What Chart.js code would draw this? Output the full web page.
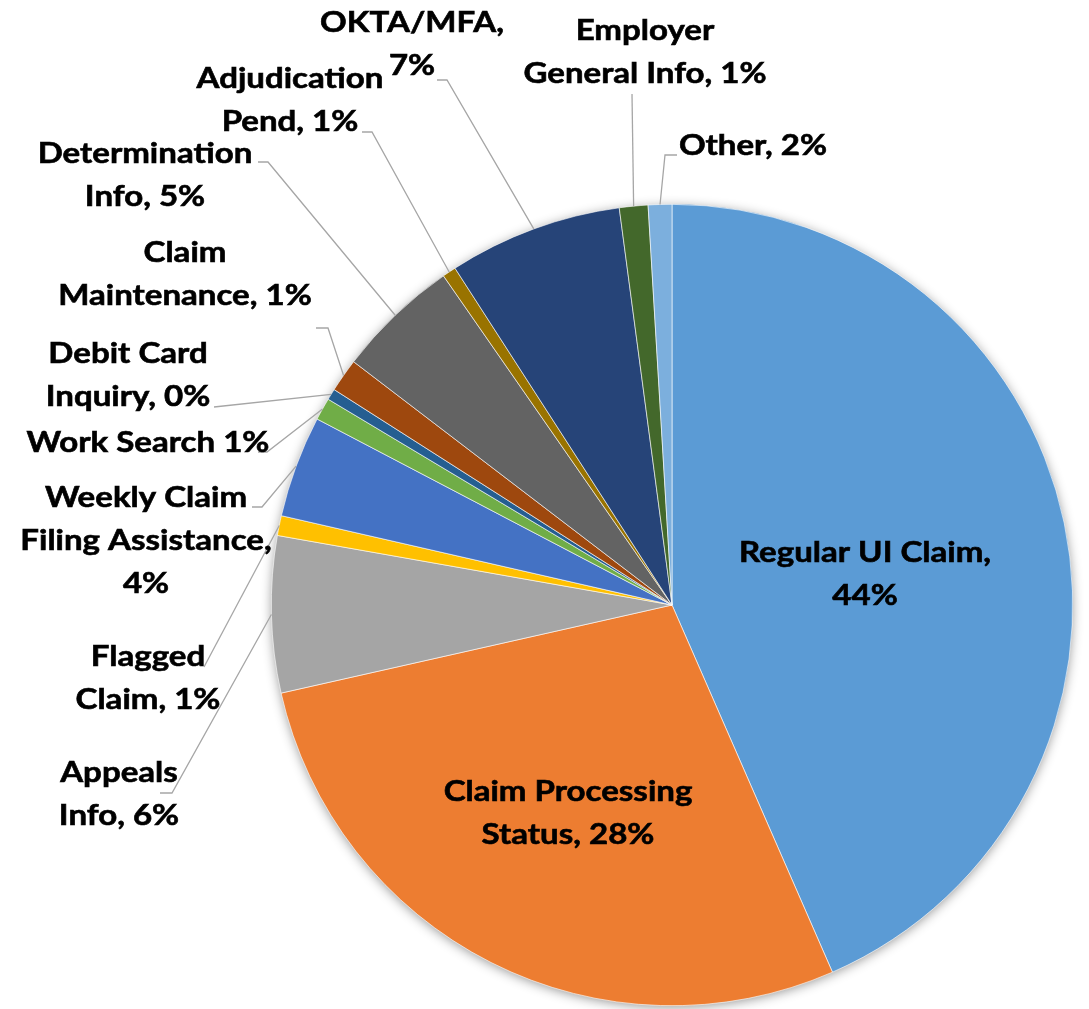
<!DOCTYPE html>
<html>
<head>
<meta charset="utf-8">
<script src="https://cdn.jsdelivr.net/npm/chart.js@4/dist/chart.umd.min.js"></script>
<style>
  html, body { margin: 0; padding: 0; background: #fff; }
  #pie { display: block; }
</style>
</head>
<body>
<canvas id="pie" width="1089" height="1009"></canvas>
<script>
'use strict';

// categories, clockwise from 12 o'clock
const categories = [
  'Regular UI Claim', 'Claim Processing Status', 'Appeals Info', 'Flagged Claim',
  'Weekly Claim Filing Assistance', 'Work Search', 'Debit Card Inquiry', 'Claim Maintenance',
  'Determination Info', 'Adjudication Pend', 'OKTA/MFA', 'Employer General Info', 'Other',
];

// share of calls (%)
const shares = [43.4, 28.0, 6.3, 0.8, 4.1, 0.9, 0.45, 1.35, 4.95, 0.55, 7.0, 1.15, 0.95];

const sliceColors = [
  '#5B9BD5', '#ED7D31', '#A5A5A5', '#FFC000', '#4472C4', '#70AD47', '#255E91',
  '#9E480E', '#636363', '#997300', '#264478', '#43682B', '#7CAFDD',
];

// data label text as printed on the chart
const labelLines = [
  ['Regular UI Claim,', '44%'],
  ['Claim Processing', 'Status, 28%'],
  ['Appeals', 'Info, 6%'],
  ['Flagged', 'Claim, 1%'],
  ['Weekly Claim', 'Filing Assistance,', '4%'],
  ['Work Search 1%'],
  ['Debit Card', 'Inquiry, 0%'],
  ['Claim', 'Maintenance, 1%'],
  ['Determination', 'Info, 5%'],
  ['Adjudication', 'Pend, 1%'],
  ['OKTA/MFA,', '7%'],
  ['Employer', 'General Info, 1%'],
  ['Other, 2%'],
];

// where each label sits (center x, first baseline) and where its leader starts
const labelPlace = [
  { x: 865, y: 562, lead: null },
  { x: 568, y: 801, lead: null },
  { x: 119, y: 782, lead: [[160, 793], [172, 793]] },
  { x: 148, y: 666, lead: [[204, 667]] },
  { x: 146, y: 507, lead: [[252, 507], [262, 507]] },
  { x: 148, y: 452, lead: [[258, 452], [267, 452]] },
  { x: 128, y: 363, lead: [[214, 407]] },
  { x: 185, y: 262, lead: [[316, 328], [328, 328]] },
  { x: 145, y: 163, lead: [[258, 162], [268, 162]] },
  { x: 290, y: 88, lead: [[362, 132], [372, 132]] },
  { x: 412, y: 32, lead: [[437, 80], [447, 80]] },
  { x: 645, y: 40, lead: [[632, 94]] },
  { x: 753, y: 155, lead: [[677, 155], [665, 155]] },
];

const FONT = 'bold 28px Lato, "Open Sans", sans-serif';
const TEXT_STRETCH = 1.18;
const LINE_H = 43;

const pieShadow = {
  id: 'pieShadow',
  beforeDatasetsDraw(chart) {
    const arc = chart.getDatasetMeta(0).data[0];
    if (!arc) return;
    const ctx = chart.ctx;
    ctx.save();
    ctx.shadowColor = 'rgba(0,0,0,0.45)';
    ctx.shadowBlur = 12;
    ctx.shadowOffsetX = 0;
    ctx.shadowOffsetY = 2;
    ctx.fillStyle = '#ffffff';
    ctx.beginPath();
    ctx.arc(arc.x, arc.y, arc.outerRadius - 1, 0, Math.PI * 2);
    ctx.fill();
    ctx.restore();
  },
};

const sliceLabels = {
  id: 'sliceLabels',
  afterDatasetsDraw(chart) {
    const ctx = chart.ctx;
    const arcs = chart.getDatasetMeta(0).data;
    arcs.forEach((arc, i) => {
      const place = labelPlace[i];
      if (place.lead) {
        const mid = (arc.startAngle + arc.endAngle) / 2;
        const ex = arc.x + Math.cos(mid) * arc.outerRadius;
        const ey = arc.y + Math.sin(mid) * arc.outerRadius;
        ctx.save();
        ctx.strokeStyle = '#A6A6A6';
        ctx.lineWidth = 1.3;
        ctx.beginPath();
        ctx.moveTo(place.lead[0][0], place.lead[0][1]);
        for (let k = 1; k < place.lead.length; k++) ctx.lineTo(place.lead[k][0], place.lead[k][1]);
        ctx.lineTo(ex, ey);
        ctx.stroke();
        ctx.restore();
      }
      ctx.save();
      ctx.translate(place.x, place.y);
      ctx.scale(TEXT_STRETCH, 1);
      ctx.font = FONT;
      ctx.fillStyle = '#000000';
      ctx.strokeStyle = '#000000';
      ctx.lineWidth = 0.6;
      ctx.textAlign = 'center';
      ctx.textBaseline = 'alphabetic';
      labelLines[i].forEach((line, j) => {
        ctx.fillText(line, 0, j * LINE_H);
        ctx.strokeText(line, 0, j * LINE_H);
      });
      ctx.restore();
    });
  },
};

new Chart(document.getElementById('pie'), {
  type: 'pie',
  data: {
    labels: categories,
    datasets: [{
      data: shares,
      backgroundColor: sliceColors,
      borderColor: '#ffffff',
      borderWidth: 0.6,
    }],
  },
  options: {
    responsive: false,
    animation: false,
    events: [],
    layout: { padding: { left: 271, right: 16, top: 204, bottom: 3 } },
    plugins: { legend: { display: false }, tooltip: { enabled: false } },
  },
  plugins: [pieShadow, sliceLabels],
});
</script>
</body>
</html>
